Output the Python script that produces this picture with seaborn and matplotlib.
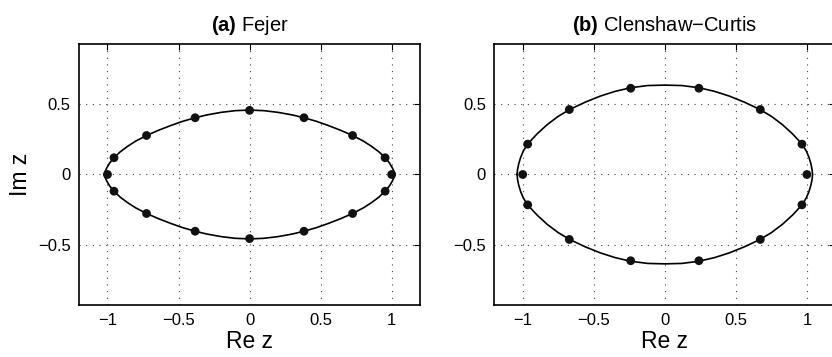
import numpy as np
import pandas as pd
import seaborn as sns
import matplotlib.pyplot as plt

# curve, upper right quarter (x from 0 outwards)
fejer_curve_x = [0.0, 0.10, 0.20, 0.30, 0.383, 0.47, 0.552, 0.64, 0.725, 0.80,
                 0.856, 0.91, 0.954, 0.985, 1.005, 1.017, 1.024]
fejer_curve_y = [0.454, 0.450, 0.438, 0.420, 0.400, 0.375, 0.346, 0.312, 0.275, 0.236,
                 0.200, 0.160, 0.118, 0.080, 0.046, 0.020, 0.0]
cc_curve_x = [0.0, 0.12, 0.238, 0.35, 0.453, 0.56, 0.668, 0.75, 0.827, 0.90,
              0.963, 0.995, 1.014, 1.028, 1.036, 1.040]
cc_curve_y = [0.630, 0.627, 0.612, 0.586, 0.553, 0.510, 0.459, 0.410, 0.352, 0.285,
              0.217, 0.167, 0.122, 0.076, 0.036, 0.0]

# nodes (dots)
fejer_x = [1.0, 0.954, 0.725, 0.383, 0.0, -0.383, -0.725, -0.954,
           -1.0, -0.954, -0.725, -0.383, 0.0, 0.383, 0.725, 0.954]
fejer_y = [0.0, 0.118, 0.275, 0.400, 0.452, 0.400, 0.275, 0.118,
           0.0, -0.118, -0.275, -0.400, -0.452, -0.400, -0.275, -0.118]
cc_x = [1.0, 0.965, 0.672, 0.24, -0.24, -0.672, -0.965,
        -1.0, -0.965, -0.672, -0.24, 0.24, 0.672, 0.965]
cc_y = [0.0, 0.214, 0.458, 0.608, 0.608, 0.458, 0.214,
        0.0, -0.214, -0.458, -0.608, -0.608, -0.458, -0.214]

x_ticks = [-1, -0.5, 0, 0.5, 1]
y_ticks = [-0.5, 0, 0.5]
x_ticklabels = ["\u22121", "\u22120.5", "0", "0.5", "1"]
y_ticklabels = ["\u22120.5", "0", "0.5"]


def closed_loop(qx, qy):
    qx, qy = np.asarray(qx), np.asarray(qy)
    ux = np.concatenate([-qx[::-1], qx[1:]])
    uy = np.concatenate([qy[::-1], qy[1:]])
    x = np.concatenate([ux, ux[::-1][1:]])
    y = np.concatenate([uy, -uy[::-1][1:]])
    return pd.DataFrame({"x": x, "y": y})


sns.set_theme(style="white")
plt.rcParams["font.family"] = ["Liberation Sans", "DejaVu Sans"]
plt.rcParams["mathtext.fontset"] = "custom"
plt.rcParams["mathtext.rm"] = "Liberation Sans"
plt.rcParams["mathtext.bf"] = "Liberation Sans:bold"
plt.rcParams["text.color"] = "black"
plt.rcParams["axes.labelcolor"] = "black"

fig = plt.figure(figsize=(8.32, 3.57), dpi=100)
ax1 = fig.add_axes([0.0950, 0.1457, 0.4099, 0.7311])
ax2 = fig.add_axes([0.5941, 0.1457, 0.4099, 0.7311])

panels = [
    (ax1, fejer_curve_x, fejer_curve_y, fejer_x, fejer_y, r"$\mathbf{(a)}$ Fejer"),
    (ax2, cc_curve_x, cc_curve_y, cc_x, cc_y, r"$\mathbf{(b)}$ Clenshaw" + "\u2212Curtis"),
]

for ax, qx, qy, px, py, title in panels:
    ax.grid(False)
    for t in x_ticks:
        ax.axvline(t, color="#444444", lw=0.8, ls=(0, (1, 5)), zorder=0)
    for t in y_ticks:
        ax.axhline(t, color="#444444", lw=0.8, ls=(0, (1, 5)), zorder=0)
    curve = closed_loop(qx, qy)
    sns.lineplot(data=curve, x="x", y="y", sort=False, estimator=None,
                 color="black", lw=1.2, ax=ax, zorder=2)
    sns.scatterplot(x=px, y=py, color="#111111", s=40, edgecolor="none",
                    ax=ax, zorder=3)
    ax.set_xlim(-1.2, 1.2)
    ax.set_ylim(-0.92, 0.92)
    ax.set_xticks(x_ticks)
    ax.set_xticklabels(x_ticklabels)
    ax.set_yticks(y_ticks)
    ax.set_yticklabels(y_ticklabels)
    ax.tick_params(direction="in", length=4, width=0.8, top=True, right=True,
                   labelsize=12, pad=6, colors="black")
    for sp in ax.spines.values():
        sp.set_color("black")
        sp.set_linewidth(1.2)
    ax.set_xlabel("Re z", fontsize=16.5, labelpad=1)
    ax.set_ylabel("")
    ax.set_title(title, fontsize=14.5, pad=9)

ax1.set_ylabel("Im z", fontsize=16.5, labelpad=4)

fig.savefig("out.png", dpi=100)
